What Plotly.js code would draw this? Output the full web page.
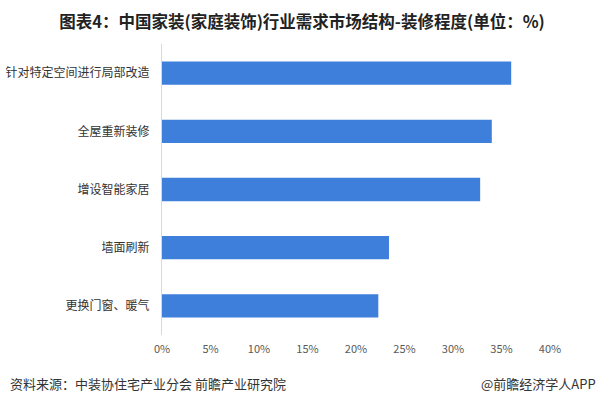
<!DOCTYPE html>
<html><head><meta charset="utf-8">
<script src="https://cdn.plot.ly/plotly-3.0.1.min.js"></script>
<style>html,body{margin:0;padding:0;background:#fff}#chart{width:604px;height:403px}</style>
</head><body><div id="chart"></div>
<script>
var categories = ["针对特定空间进行局部改造","全屋重新装修","增设智能家居","墙面刷新","更换门窗、暖气"];
var values = [36.0, 34.0, 32.8, 23.4, 22.3];
var tickVals = [0,5,10,15,20,25,30,35,40];
var tickText = ["0%","5%","10%","15%","20%","25%","30%","35%","40%"];
var F = '"Noto Sans CJK SC", "Microsoft YaHei", sans-serif';
var trace = {type:'bar', orientation:'h', x: values, y: categories,
  marker:{color:'#3e7fdc'}, hoverinfo:'skip'};
var layout = {
  width:604, height:403, paper_bgcolor:'#fff', plot_bgcolor:'#fff',
  margin:{l:162, r:54, t:44, b:68},
  bargap:0.6, showlegend:false,
  font:{family:F, color:'#333'},
  title:{text:'图表4：中国家装(家庭装饰)行业需求市场结构-装修程度(单位：%)', x:0.5, xref:'container', y:0.945, yref:'container', xanchor:'center', yanchor:'middle',
    font:{family:F, size:16.5, color:'#222', weight:'bold'}},
  xaxis:{range:[0,40], tickvals:tickVals, ticktext:tickText, showgrid:false, zeroline:false, showline:false,
    ticks:'', ticklabelstandoff:6, tickfont:{size:11, color:'#595959', family:F}, fixedrange:true},
  yaxis:{autorange:'reversed', showgrid:false, zeroline:false, showline:true, linecolor:'#d9d9d9', linewidth:1,
    ticks:'', ticklabelstandoff:9, tickfont:{size:12, color:'#333', family:F}, fixedrange:true},
  annotations:[
    {text:'资料来源：中装协住宅产业分会 前瞻产业研究院', xref:'paper', yref:'paper', x:-154/388, y:-48/291, xanchor:'left', yanchor:'middle', showarrow:false, font:{size:13, color:'#333', family:F}},
    {text:'@前瞻经济学人APP', xref:'paper', yref:'paper', x:(598-162)/388, y:-48/291, xanchor:'right', yanchor:'middle', showarrow:false, font:{size:13, color:'#333', family:F}}
  ]
};
Plotly.newPlot('chart',[trace],layout,{displayModeBar:false, staticPlot:true});
</script></body></html>
